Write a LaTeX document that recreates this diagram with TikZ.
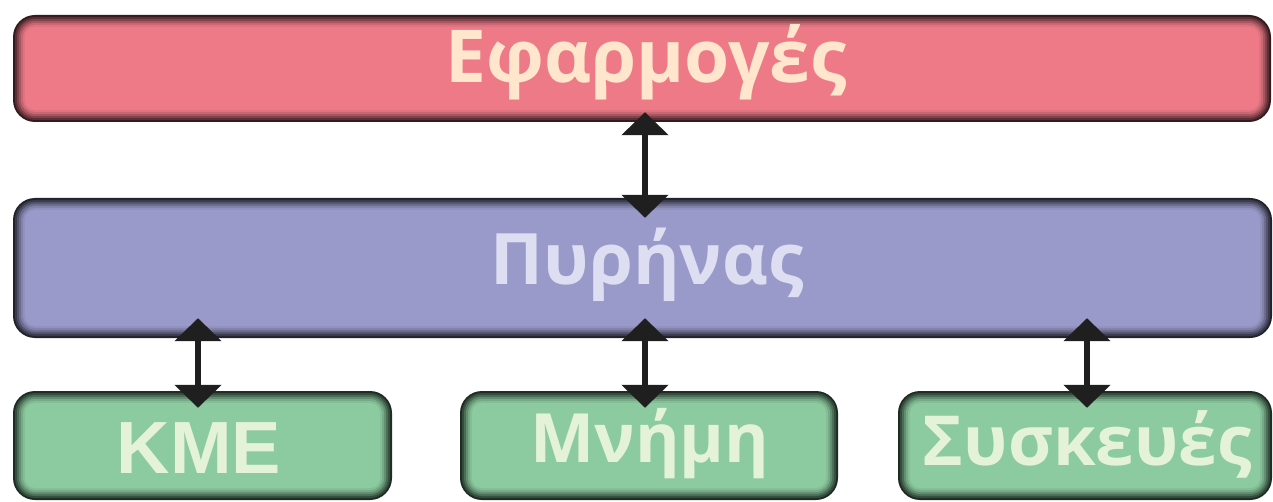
\documentclass[tikz,border=0pt]{standalone}
\usepackage{fontspec}
\setmainfont{Open Sans}
\newfontfamily\arialb{Liberation Sans}
\usetikzlibrary{arrows.meta,calc}
\definecolor{redbox}{HTML}{EE7A88}
\definecolor{bluebox}{HTML}{9A9ACA}
\definecolor{greenbox}{HTML}{8CCAA0}
\definecolor{redtext}{HTML}{FFE6CC}
\definecolor{bluetext}{HTML}{DEDEF2}
\definecolor{greentext}{HTML}{E4F2D8}
\newcommand\layeredbox[6]{%
  \foreach \ii/\mm in {0/22,2/38,4/54,6/70,8/84,10/94,12/100}{%
    \pgfmathsetmacro\rr{22-\ii}%
    \fill[#6!\mm!black, rounded corners=\rr pt] (#2+\ii,#3+\ii) rectangle (#4-\ii,#5-\ii);
  }%
  \pgfmathsetmacro\ww{#4-#2}\pgfmathsetmacro\hh{#5-#3}%
  \node[inner sep=0, minimum width=\ww pt, minimum height=\hh pt] (#1) at ({(#2+#4)/2},{(#3+#5)/2}) {};
}
\tikzset{
  label/.style={anchor=base, inner sep=0, font=\bfseries\fontsize{72}{72}\selectfont},
  link/.style={line width=6pt, color=black!88, {Triangle[width=46pt,length=23pt]}-{Triangle[width=46pt,length=23pt]}}
}
\begin{document}
\begin{tikzpicture}[x=1pt,y=-1pt]
\useasboundingbox (0,0) rectangle (1273,502);
\begin{scope}
\clip (0,0) rectangle (1273,502);
\layeredbox{apps}{13}{15}{1271}{122}{redbox}
\layeredbox{kern}{13}{198}{1272}{338}{bluebox}
\layeredbox{cpu}{13}{391}{392}{500}{greenbox}
\layeredbox{mem}{460}{391}{838}{500}{greenbox}
\layeredbox{dev}{898}{391}{1272}{500}{greenbox}
\end{scope}
\node[label, text=redtext, font=\bfseries\fontsize{73}{73}\selectfont] (lapps) at (646,83) {Εφαρμογές};
\node[label, text=bluetext, font=\bfseries\fontsize{71}{71}\selectfont] (lkern) at (647,285) {Πυρήνας};
\node[label, text=greentext, font=\arialb\bfseries\fontsize{74}{74}\selectfont] (lcpu) at (199,473) {ΚΜΕ};
\node[label, text=greentext, font=\bfseries\fontsize{68}{68}\selectfont] (lmem) at (650,462) {Μνήμη};
\node[label, text=greentext, font=\bfseries\fontsize{69}{69}\selectfont] (ldev) at (1087,465) {Συσκευές};
\draw[link] ([yshift=10pt]apps.south -| 645,0) -- ([yshift=-20pt]kern.north -| 645,0);
\draw[link] ([yshift=20pt]kern.south -| 198,0) -- ([yshift=-17pt]cpu.north -| 198,0);
\draw[link] ([yshift=20pt]kern.south -| 645,0) -- ([yshift=-17pt]mem.north -| 645,0);
\draw[link] ([yshift=20pt]kern.south -| 1087,0) -- ([yshift=-17pt]dev.north -| 1087,0);
\end{tikzpicture}
\end{document}
